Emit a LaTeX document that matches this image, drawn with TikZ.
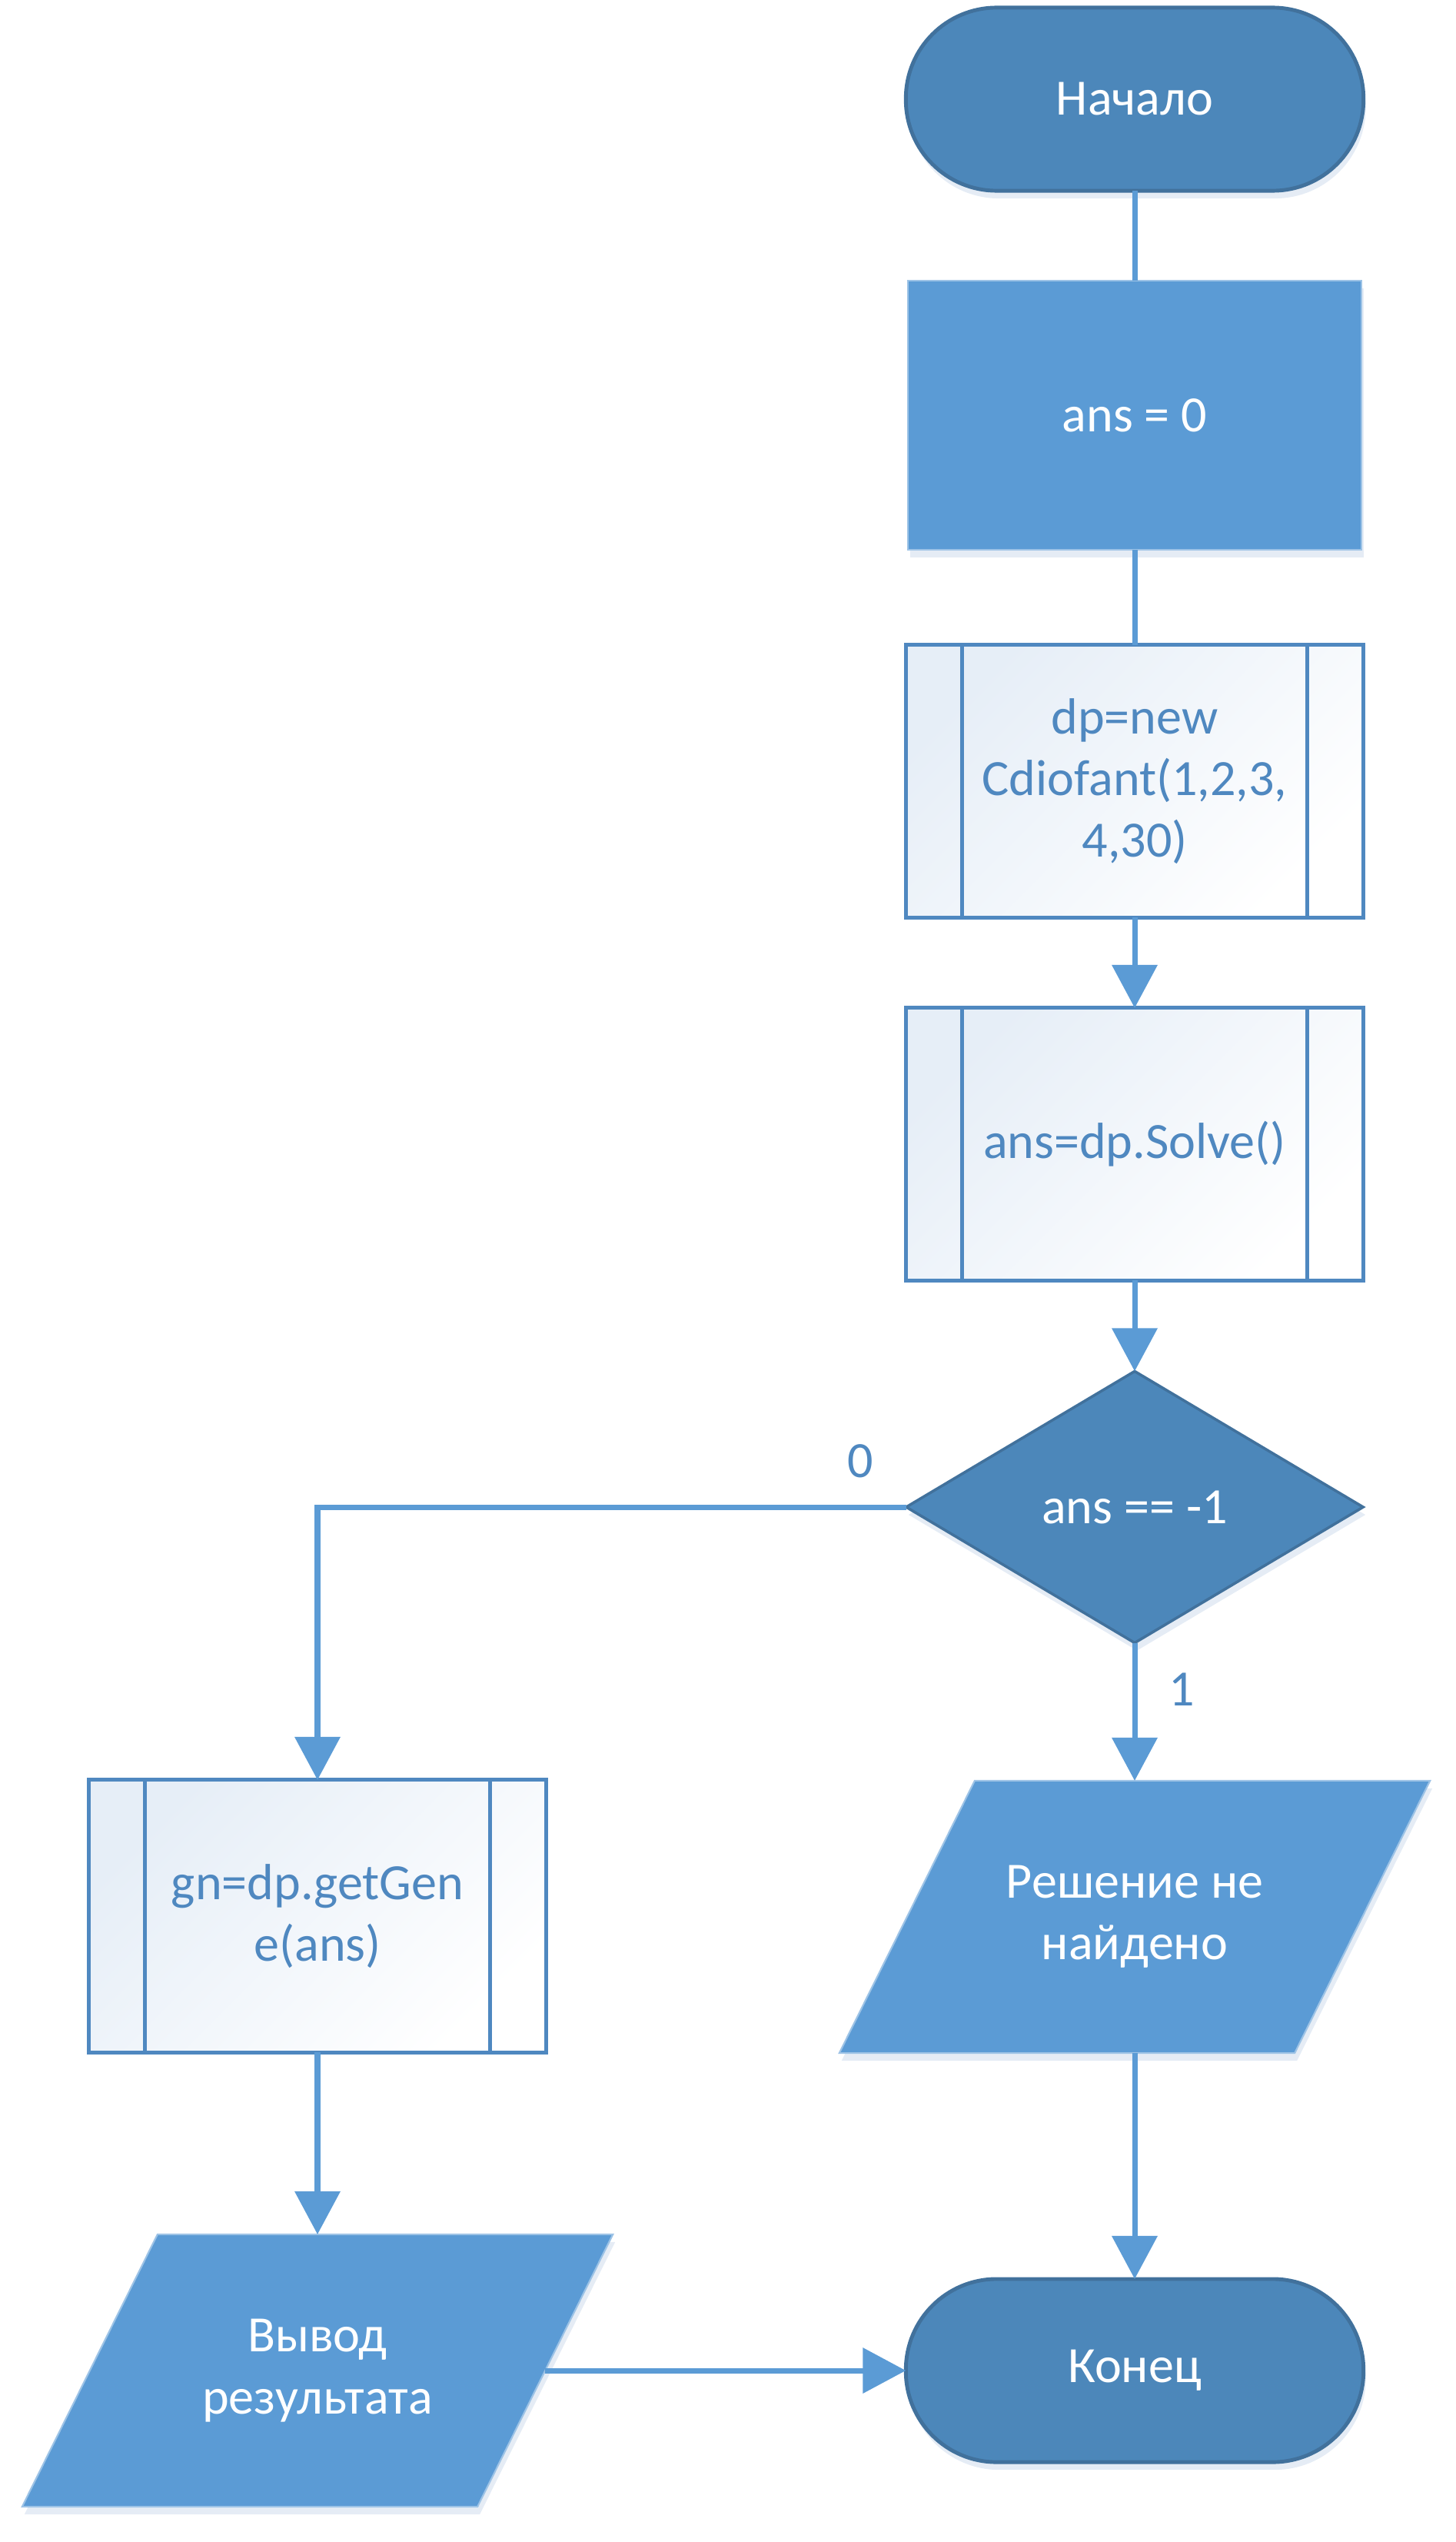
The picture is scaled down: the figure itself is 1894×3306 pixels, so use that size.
\documentclass[tikz,border=0pt]{standalone}
\usepackage{fontspec}
\setmainfont{Carlito}
\usetikzlibrary{arrows.meta,shapes.geometric,shadows,backgrounds}

\definecolor{termfill}{HTML}{4C87BA}
\definecolor{termline}{HTML}{41719C}
\definecolor{procfill}{HTML}{5B9BD5}
\definecolor{procline}{HTML}{9DC3E6}
\definecolor{subline}{HTML}{4F88C0}
\definecolor{subshade}{HTML}{E6EEF7}
\definecolor{flowline}{HTML}{5B9BD5}
\definecolor{shadowcol}{HTML}{D3E0EF}

\begin{document}
\begin{tikzpicture}[x=0.01cm, y=-0.01cm,
    font=\fontsize{18.8}{22.8}\selectfont,
    softshadow/.style={drop shadow={shadow xshift=0.03cm, shadow yshift=-0.1cm, fill=shadowcol, opacity=0.6}},
    terminal/.style={rectangle, rounded corners=1.18cm, draw=termline, line width=1.4pt, fill=termfill, text=white, minimum width=5.95cm, minimum height=2.38cm, outer sep=0pt, softshadow},
    process/.style={rectangle, draw=procline, line width=0.6pt, fill=procfill, text=white, minimum width=5.9cm, minimum height=3.5cm, outer sep=0pt, softshadow},
    subproc/.style={rectangle, draw=subline, line width=1.4pt, left color=subshade, right color=white, shading angle=45, text=subline, align=center, minimum width=5.94cm, minimum height=3.54cm, outer sep=0pt,
      path picture={
        \draw[subline, line width=1.4pt]
          ([xshift=0.73cm]path picture bounding box.north west) -- ([xshift=0.73cm]path picture bounding box.south west)
          ([xshift=-0.73cm]path picture bounding box.north east) -- ([xshift=-0.73cm]path picture bounding box.south east);}},
    decision/.style={diamond, draw=termline, line width=1pt, fill=termfill, text=white, minimum width=5.94cm, minimum height=3.53cm, inner sep=0pt, outer sep=0pt, softshadow},
    io/.style={rectangle, text=white, align=center, minimum width=5.92cm, minimum height=3.54cm, outer sep=0pt},
    iobody/.style={fill=procfill, draw=procline, line width=0.6pt, softshadow},
    lbl/.style={text=subline},
    flow/.style={draw=flowline, line width=2pt},
    arr/.style={flow, -{Triangle[width=0.58cm, length=0.56cm]}}]

    \useasboundingbox (0,0) rectangle (1894,3306);

    % Main column
    \node[terminal] (start) at (1476,129) {Начало};
    \node[process] (init) at (1476,540) {ans = 0};
    \node[subproc] (mk) at (1476,1016) {dp=new\\Cdiofant(1,2,3,\\4,30)};
    \node[subproc] (solve) at (1476,1488) {ans=dp.Solve()};
    \node[decision] (check) at (1476,1960) {ans == -1};
    \node[io] (nosol) at (1476,2493) {Решение не\\найдено};
    \node[terminal] (stop) at (1476,3083) {Конец};

    % Branch 0
    \node[subproc] (gene) at (413,2492) {gn=dp.getGen\\e(ans)};
    \node[io] (out) at (413,3083) {Вывод\\результата};

    % Parallelograms behind the io texts
    \begin{scope}[on background layer]
      \foreach \n in {nosol,out}
        \path[iobody] ([xshift=0.88cm]\n.north west) -- ([xshift=0.88cm]\n.north east)
          -- ([xshift=-0.88cm]\n.south east) -- ([xshift=-0.88cm]\n.south west) -- cycle;
    \end{scope}

    % Branch labels
    \node[lbl] (lzero) at ([xshift=-0.6cm, yshift=0.6cm]check.west) {0};
    \node[lbl] (lone) at ([xshift=0.61cm, yshift=-0.61cm]check.south) {1};

    % Connectors
    \draw[flow] (start) -- (init);
    \draw[flow] (init) -- (mk);
    \draw[arr] (mk) -- (solve);
    \draw[arr] (solve) -- (check);
    \draw[arr] (check.west) -| (gene.north);
    \draw[arr] (check) -- (nosol);
    \draw[arr] (nosol) -- (stop);
    \draw[arr] (gene) -- (out);
    \draw[arr] (out) -- (stop);
\end{tikzpicture}
\end{document}
